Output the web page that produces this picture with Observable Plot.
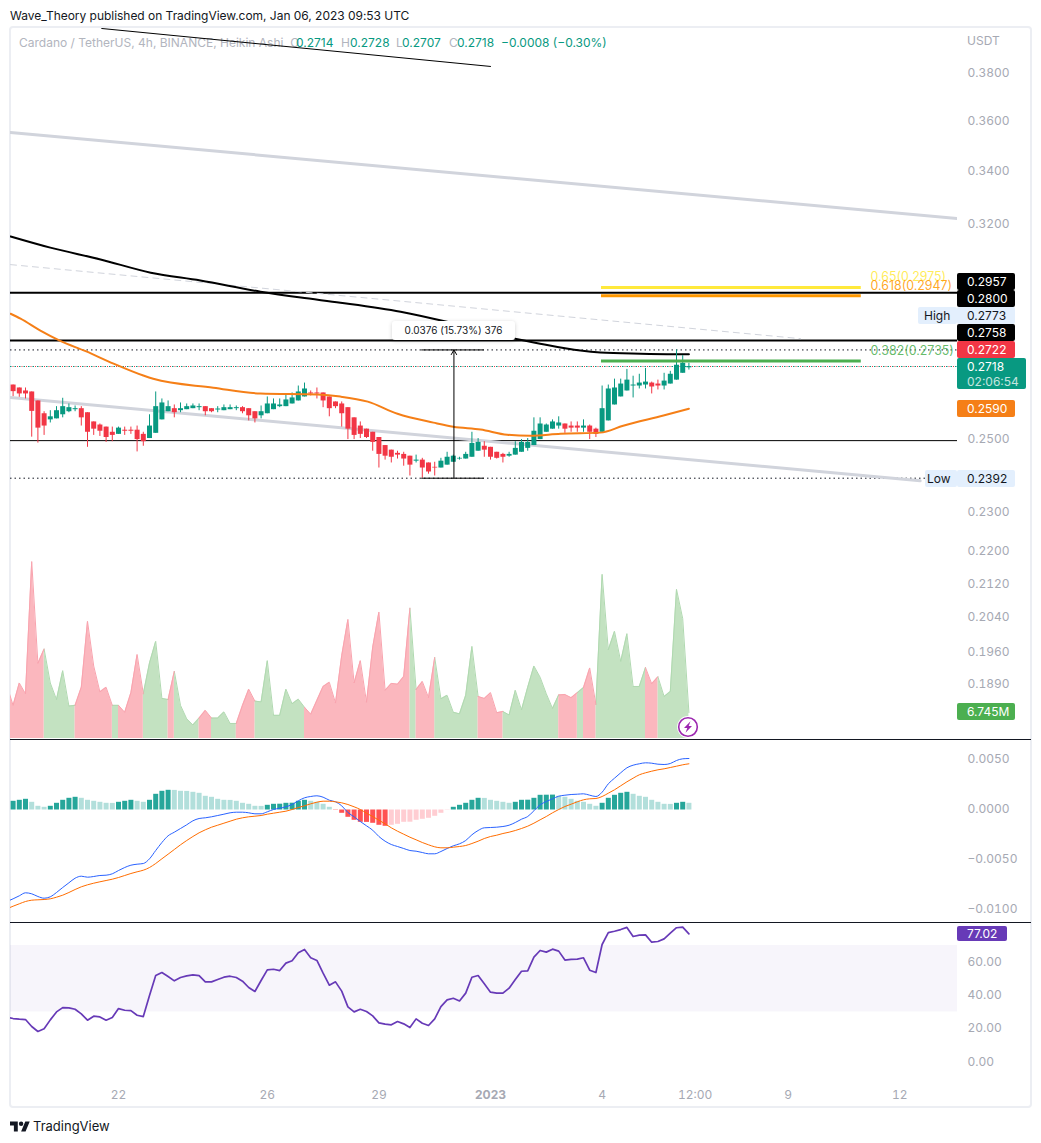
<!DOCTYPE html>
<html>
<head>
<meta charset="utf-8">
<script src="https://cdn.jsdelivr.net/npm/d3@7"></script>
<script src="https://cdn.jsdelivr.net/npm/@observablehq/plot@0.6"></script>
<style>
html,body{margin:0;padding:0;background:#fff;overflow:hidden}
#page{position:relative;width:1041px;height:1143px;overflow:hidden;font-family:Inter,"Liberation Sans",sans-serif;font-size:12px;color:#131722}
#page svg{position:absolute;left:0;max-width:none}
.t{position:absolute;white-space:nowrap;line-height:16px}
.tag{position:absolute;box-sizing:border-box;padding-left:10px;display:flex;align-items:center;white-space:nowrap;border-radius:2px;font-size:12px}
.rule{position:absolute;background:#131722;height:1px}
</style>
</head>
<body>
<div id="page"></div>
<script>
// ---------- candles (4h Heikin Ashi), from 19 Dec 2022 04:00 UTC
const open=[.2661,.2652,.2643,.2640,.2613,.2575,.2557,.2560,.2572,.2581,
.2587,.2590,.2578,.2551,.2542,.2536,.2521,.2515,.2527,.2527,
.2527,.2515,.2503,.2518,.2557,.2581,.2590,.2584,.2587,.2590,
.2593,.2596,.2590,.2586,.2584,.2587,.2590,.2593,.2590,.2581,
.2569,.2575,.2587,.2596,.2596,.2604,.2613,.2625,.2637,.2637,
.2637,.2625,.2610,.2604,.2593,.2563,.2539,.2530,.2521,.2506,
.2483,.2470,.2461,.2458,.2453,.2439,.2442,.2434,.2422,.2420,
.2428,.2436,.2445,.2445,.2450,.2467,.2481,.2478,.2464,.2458,
.2453,.2456,.2464,.2475,.2483,.2500,.2521,.2530,.2539,.2545,
.2539,.2539,.2533,.2539,.2530,.2521,.2554,.2601,.2625,.2643,
.2658,.2658,.2661,.2667,.2664,.2658,.2664,.2676,.2697,.2714];
const high=[.2661,.2652,.2652,.2640,.2613,.2581,.2584,.2596,.2621,.2604,
.2598,.2596,.2578,.2551,.2545,.2536,.2536,.2536,.2536,.2536,
.2539,.2521,.2572,.2640,.2619,.2613,.2601,.2607,.2604,.2604,
.2604,.2596,.2590,.2596,.2601,.2601,.2598,.2596,.2590,.2581,
.2598,.2625,.2619,.2619,.2631,.2637,.2658,.2667,.2643,.2652,
.2637,.2625,.2610,.2610,.2593,.2563,.2551,.2530,.2521,.2506,
.2483,.2470,.2467,.2464,.2453,.2456,.2447,.2434,.2436,.2447,
.2464,.2456,.2450,.2464,.2521,.2503,.2494,.2478,.2464,.2461,
.2464,.2494,.2500,.2503,.2563,.2563,.2545,.2557,.2566,.2545,
.2551,.2551,.2557,.2542,.2533,.2658,.2661,.2679,.2679,.2709,
.2688,.2694,.2712,.2670,.2676,.2697,.2703,.2770,.2752,.2728];
const low=[.2626,.2624,.2619,.2507,.2490,.2512,.2548,.2560,.2563,.2578,
.2581,.2539,.2478,.2512,.2509,.2492,.2494,.2515,.2512,.2515,
.2465,.2481,.2503,.2518,.2557,.2581,.2563,.2578,.2587,.2590,
.2584,.2569,.2578,.2578,.2584,.2587,.2584,.2575,.2554,.2548,
.2560,.2575,.2587,.2593,.2596,.2604,.2613,.2625,.2628,.2619,
.2593,.2566,.2590,.2536,.2500,.2500,.2503,.2503,.2467,.2420,
.2442,.2434,.2445,.2425,.2398,.2434,.2392,.2403,.2398,.2420,
.2428,.2436,.2442,.2445,.2450,.2467,.2450,.2442,.2445,.2434,
.2450,.2456,.2464,.2467,.2483,.2500,.2521,.2530,.2530,.2518,
.2521,.2521,.2521,.2500,.2506,.2518,.2554,.2601,.2625,.2643,
.2622,.2649,.2649,.2634,.2646,.2646,.2664,.2676,.2697,.2707];
const close=[.2641,.2634,.2634,.2582,.2533,.2539,.2566,.2584,.2596,.2593,
.2590,.2563,.2521,.2530,.2524,.2506,.2512,.2533,.2524,.2524,
.2500,.2494,.2539,.2596,.2607,.2596,.2578,.2590,.2596,.2598,
.2596,.2581,.2581,.2589,.2593,.2593,.2593,.2581,.2569,.2560,
.2581,.2604,.2604,.2601,.2616,.2622,.2640,.2649,.2634,.2634,
.2613,.2590,.2596,.2575,.2530,.2512,.2515,.2506,.2492,.2458,
.2453,.2450,.2456,.2445,.2428,.2442,.2420,.2409,.2420,.2439,
.2450,.2453,.2447,.2458,.2489,.2492,.2470,.2450,.2447,.2450,
.2458,.2475,.2492,.2492,.2524,.2545,.2542,.2551,.2548,.2530,
.2533,.2533,.2539,.2521,.2515,.2590,.2649,.2652,.2664,.2676,
.2661,.2667,.2670,.2655,.2658,.2673,.2694,.2722,.2728,.2718];

// ---------- moving averages and drawings (bar number, price)
const emaBars=[-0.4,1.2,4.4,7.6,11.7,16.2,21,22.6,32.3,39.9,49.1,52.8,57.2,62,67.8,71,75.4,79.7,83.4,88.3,94.7,98.4,104.9,109];
const emaPrices=[.2887,.2871,.2832,.2799,.2766,.2727,.2690,.2680,.2653,.2635,.2632,.2626,.2611,.2575,.2549,.2537,.2529,.2514,.2511,.2517,.2520,.2540,.2570,.2590];
const slowBars=[-0.4,6,14.1,22.2,30.2,39.9,46.4,52.8,62.5,70.5,78.6,85,91.5,94.7,101.2,109];
const slowPrices=[.3154,.3114,.3072,.3026,.2999,.2961,.2941,.2924,.2894,.2858,.2816,.2790,.2768,.2762,.2758,.2756];
const trendHighBars=[-0.42,152.32], trendHighPrices=[.3552,.3219];
const trendLowBars=[-0.42,146.3], trendLowPrices=[.2623,.2385];
const trendDashBars=[-0.42,127], trendDashPrices=[.3054,.2806];
const trendTopBars=[14.3,77], trendTopPrices=[.4001,.3831];
const fibBars=[94.9,136.8];
const fibLabelBar=138.3;
const fibLevels=["0.65(0.2975)","0.618(0.2947)","0.382(0.2735)"];
const fibPrices=[.2975,.2947,.2735];
const fibColors=["#FFE93B","#FF9800","#4CAF50"];
const solidLevels=[.2957,.2800], thinLevels=[.2497], dottedLevels=[.2770,.2392], lastPrice=[.2718];
const measureBars=[65.9,71.1,76], measureLow=.2392, measureHigh=.2770;
const priceTicks=[.38,.36,.34,.32,.25,.23,.22,.212,.204,.196,.189];

// ---------- volume in millions, first entry is the bar before the first candle
const volume=[13.7,8.6,14.4,11.6,45.9,19.5,23.2,14.4,10.1,17.6,8.4,
8.6,13.3,30.4,18.8,12.1,13.3,8.6,8.6,6.8,11.9,
21.8,11.6,19.6,25.2,10.4,10.1,17.4,8.6,5.1,3.5,
5.3,7.3,5.3,5.3,6.9,3.9,3.9,8.6,12.8,9.7,
9.5,20.2,6.0,6.0,12.8,9.0,10.2,8.1,6.3,9.9,
13.5,14.6,9.2,21.5,30.9,14.4,20.2,9.4,23.7,32.8,
12.5,14.3,14.1,16.1,33.8,12.7,14.8,10.6,21.0,10.3,
11.2,6.8,6.4,11.2,23.9,10.9,10.4,11.9,6.7,7.0,
6.1,12.5,7.4,13.3,18.8,15.9,11.6,7.8,11.3,11.4,
10.6,11.9,13.2,18.3,8.8,42.6,23.0,27.8,20.0,27.2,
13.5,13.5,18.4,14.2,16.0,10.9,12.2,38.7,31.1,6.745];

// ---------- MACD (units of 0.0001), first entry of the lines is the bar before the first candle
const macdHist=[8.7,9.7,10.7,7.7,3.7,2.7,3.7,6.7,9.7,11.7,
12.7,11.7,9.7,8.7,7.7,6.7,6.6,7.7,8.7,9.7,
8.7,7.7,9.7,15.7,18.7,19.7,19.6,18.7,18.6,17.7,
16.7,13.7,12.7,10.7,9.7,9.6,8.7,6.7,5.7,3.7,
3.6,4.7,5.7,5.8,6.7,6.8,8.7,9.7,8.7,7.7,
5.7,2.7,-0.3,-3.3,-7.3,-10.3,-12.3,-12.4,-13.3,-15.3,
-16.3,-15.3,-14.3,-12.3,-12.2,-10.3,-9.3,-8.3,-6.3,-3.3,
-0.3,2.7,4.7,6.7,9.7,11.7,11.6,9.7,8.7,7.7,
6.7,7.7,9.7,9.8,11.7,14.7,14.8,14.9,13.7,12.7,
10.7,8.7,7.7,5.7,3.7,6.7,11.7,14.7,16.7,17.7,
15.7,13.7,12.7,9.7,7.7,5.7,5.6,6.7,7.7,6.7];
const macdLine=[-91.5,-88.8,-85.8,-82.8,-83.8,-86.5,-88.2,-86.8,-82.5,-77.5,-72.8,
-68.2,-66.2,-67.2,-66.5,-65.5,-65.2,-63.8,-60.5,-57.5,-55.2,
-54.2,-53.5,-48.8,-40.5,-32.5,-25.8,-22.2,-18.5,-14.8,-10.8,
-8.5,-7.8,-6.8,-5.5,-4.2,-2.8,-2.2,-2.2,-2.8,-3.8,
-3.8,-1.8,.5,1.8,3.2,5.5,9.2,12.2,13.5,14.2,
12.8,9.8,8.2,4.2,-2.5,-6.8,-11.5,-15.8,-20.2,-26.5,
-31.2,-34.5,-36.5,-38.5,-40.5,-41.2,-42.5,-43.8,-43.8,-41.5,
-38.5,-35.8,-33.8,-30.5,-24.8,-20.5,-17.8,-17.5,-17.2,-16.5,
-15.2,-12.5,-9.2,-6.5,-0.8,5.2,8.5,11.2,13.8,14.8,
15.5,15.8,16.2,14.8,13.5,17.8,26.2,31.8,37.2,42.2,
44.8,46.2,47.2,46.8,45.8,45.5,46.5,49.5,51.2,51.5];
const macdSignal=[-98.8,-96.2,-93.8,-91.5,-90.2,-89.8,-89.5,-88.8,-87.2,-85.2,-82.5,
-79.5,-76.8,-74.8,-73.2,-71.8,-70.5,-69.2,-67.5,-65.5,-63.5,
-61.8,-60.2,-57.5,-53.5,-48.8,-44.2,-39.5,-34.8,-30.5,-26.5,
-22.8,-19.8,-17.2,-15.2,-13.2,-11.2,-9.2,-7.8,-6.8,-6.2,
-5.5,-4.2,-3.2,-2.2,-1.2,.5,2.5,4.2,6.2,7.8,
8.8,8.8,8.2,7.2,5.5,3.2,.5,-3.2,-6.5,-10.2,
-13.8,-17.8,-21.2,-24.2,-27.2,-29.8,-32.5,-34.8,-36.8,-37.8,
-37.8,-37.2,-36.5,-35.5,-33.5,-31.2,-28.5,-26.5,-25.2,-23.5,
-22.2,-20.5,-18.5,-16.2,-13.2,-9.8,-6.5,-2.8,.5,3.5,
5.8,8.2,10.2,11.2,11.5,13.5,16.8,20.2,24.2,28.2,
31.8,35.2,37.2,38.8,40.2,41.2,42.5,43.8,45.2,46.2];
const macdTicks=[.005,0,-.005,-.01];

// ---------- RSI, first entry is the bar before the first candle
const rsi=[26.8,26.0,25.6,25.4,21.2,18.2,19.8,25.2,30.0,32.6,32.4,
31.6,28.8,25.0,27.4,27.0,25.0,26.6,32.0,31.0,30.8,
28.0,27.2,39.9,51.9,53.7,51.3,48.7,50.7,51.7,52.3,
51.9,48.1,48.1,49.5,50.9,51.5,50.7,48.5,44.7,42.3,
48.9,55.3,55.7,54.9,59.4,60.8,65.6,67.6,62.6,61.0,
53.3,46.1,48.1,42.5,33.0,30.0,31.6,30.2,27.6,23.4,
22.6,22.2,24.2,22.8,20.6,25.8,23.2,21.8,25.8,33.2,
37.2,38.2,36.6,41.3,50.9,51.9,46.9,41.9,41.3,41.3,
44.3,49.5,54.5,54.7,63.0,67.0,66.0,67.8,66.6,61.2,
61.6,61.8,62.6,55.1,53.7,70.6,77.8,78.6,79.6,80.9,
75.4,76.2,76.4,72.0,72.4,74.0,77.4,80.7,81.1,77.02];
const rsiTicks=[60,40,20,0];
const rsiBand=[30,70];

// ---------- time axis
const timeTicks=[[2022,11,22,0],[2022,11,26,0],[2022,11,29,0],[2023,0,4,0],[2023,0,6,12],[2023,0,9,0],[2023,0,12,0]];
const timeLabels=["22","26","29","4","12:00","9","12"];
const yearTick=[2023,0,1,0];

// ---------- helpers
const FONT='Inter,"Liberation Sans",sans-serif';
const AXIS="#A6A9B3", UP="#089981", DOWN="#F23645";
const barStart=Date.UTC(2022,11,19,4), barMs=4*3600e3;
const barTime=i=>new Date(barStart+i*barMs);
const xDomain=[barTime(-0.42),barTime(152.32)];
const page=document.getElementById("page");
const pts=(bars,vals)=>bars.map((b,i)=>({t:barTime(b),v:vals[i]}));
const seq=vals=>vals.map((v,i)=>({t:barTime(i-1),v}));
function pane(top,height,y,marks,extra={}){
  const svg=Plot.plot({width:1041,height,marginLeft:10,marginRight:84,marginTop:0,marginBottom:0,
    x:{type:"utc",domain:xDomain,axis:null},y,marks,
    style:{background:"transparent",fontFamily:FONT,fontSize:"12px"},...extra});
  svg.style.top=top+"px";
  page.appendChild(svg);
}
function text(html,left,top,css=""){
  const d=document.createElement("div");d.className="t";d.style.cssText=`left:${left}px;top:${top}px;${css}`;d.innerHTML=html;page.appendChild(d);return d;
}
function tag(html,left,top,w,h,bg,color="#fff"){
  const d=document.createElement("div");d.className="tag";
  d.style.cssText=`left:${left}px;top:${top}px;width:${w}px;height:${h}px;background:${bg};color:${color}`;
  d.innerHTML=html;page.appendChild(d);return d;
}

// ---------- frame and header
const frame=document.createElement("div");
frame.style.cssText="position:absolute;left:9px;top:26px;width:1023px;height:1082px;box-sizing:border-box;border:2px solid #ECEEF3;border-radius:4px";
page.appendChild(frame);
text("Wave_Theory published on TradingView.com, Jan 06, 2023 09:53 UTC",10,8,"letter-spacing:-0.03px");
text("Cardano / TetherUS, 4h, BINANCE, Heikin Ashi&nbsp;&nbsp;O",19,35,"color:#B2B5BE");
const G="color:#089981", L="color:#B2B5BE";
text("0.2714",296,35,G);
text("H",341,35,L);text("0.2728",350,35,G);
text("L",396,35,L);text("0.2707",402,35,G);
text("C",449,35,L);text("0.2718",457,35,G);
text("−0.0008 (−0.30%)",501,35,G);
text("USDT",967,33,"color:"+AXIS);

// ---------- volume pane (overlaid on the price pane): one area per run of same-coloured bars
const volSegs=[];
let run=0;
volume.forEach((v,i)=>{ if(i===0) return;
  const up=close[i-1]>=open[i-1];
  if(i>1 && up!==(close[i-2]>=open[i-2])) run++;
  volSegs.push({seg:run,up,t:barTime(i-2),v:volume[i-1]},{seg:run,up,t:barTime(i-1),v});
});
const volUp=volSegs.filter(d=>d.up), volDown=volSegs.filter(d=>!d.up);
pane(28,710,{domain:[0,184.2],axis:null},[
  Plot.areaY(volUp,{x:"t",y1:()=>0,y2:"v",z:"seg",fill:"#C3E2C1",clip:true}),
  Plot.areaY(volDown,{x:"t",y1:()=>0,y2:"v",z:"seg",fill:"#FBB7BE",clip:true}),
  Plot.line(volUp,{x:"t",y:"v",z:"seg",stroke:"#B0D9B0",strokeWidth:1,clip:true}),
  Plot.line(volDown,{x:"t",y:"v",z:"seg",stroke:"#F9A3AE",strokeWidth:1,clip:true})
]);

// ---------- price pane
const candles=open.map((o,i)=>({t:barTime(i),o,h:high[i],l:low[i],c:close[i],col:close[i]>=o?UP:DOWN}));
const fibs=fibLevels.map((label,i)=>({label,p:fibPrices[i],color:fibColors[i],a:barTime(fibBars[0]),b:barTime(fibBars[1]),lab:barTime(fibLabelBar)}));
const measure=[{t:barTime(measureBars[1]),low:measureLow,high:measureHigh,a:barTime(measureBars[0]),b:barTime(measureBars[2])}];
const priceMarks=[
  Plot.ruleY(solidLevels,{stroke:"#000",strokeWidth:2}),
  Plot.ruleY(thinLevels,{stroke:"#000",strokeWidth:1}),
  Plot.ruleY(dottedLevels,{stroke:"#131722",strokeWidth:1,strokeDasharray:"1.5,3"}),
  Plot.ruleY(lastPrice,{stroke:UP,strokeWidth:1,strokeDasharray:"1.5,3"}),
  Plot.ruleY(lastPrice,{stroke:DOWN,strokeWidth:1,strokeDasharray:"1,3.5",strokeDashoffset:2}),
  Plot.line(pts(trendHighBars,trendHighPrices),{x:"t",y:"v",stroke:"#D1D4DC",strokeWidth:3,clip:true}),
  Plot.line(pts(trendLowBars,trendLowPrices),{x:"t",y:"v",stroke:"#D1D4DC",strokeWidth:3,clip:true}),
  Plot.line(pts(trendDashBars,trendDashPrices),{x:"t",y:"v",stroke:"#D1D4DC",strokeWidth:1,strokeDasharray:"6,5",clip:true}),
  Plot.line(pts(trendTopBars,trendTopPrices),{x:"t",y:"v",stroke:"#000",strokeWidth:1,clip:true}),
  Plot.line(pts(slowBars,slowPrices),{x:"t",y:"v",stroke:"#000",strokeWidth:2,curve:"monotone-x",clip:true}),
  Plot.ruleX(candles,{x:"t",y1:"l",y2:"h",stroke:"col",strokeWidth:1}),
  Plot.ruleX(candles,{x:"t",y1:"o",y2:"c",stroke:"col",strokeWidth:5}),
  Plot.line(pts(emaBars,emaPrices),{x:"t",y:"v",stroke:"#F57F17",strokeWidth:2,curve:"monotone-x",clip:true}),
  Plot.ruleY(fibs,{y:"p",x1:"a",x2:"b",stroke:"color",strokeWidth:3}),
  Plot.text(fibs,{x:"lab",y:"p",text:"label",fill:"color",fillOpacity:.85,dy:-10,textAnchor:"start",fontSize:12.4}),
  Plot.ruleY(measure,{y:"low",x1:"a",x2:"b",stroke:"#000",strokeWidth:1}),
  Plot.ruleY(measure,{y:"high",x1:"a",x2:"b",stroke:"#000",strokeWidth:1}),
  Plot.arrow(measure,{x1:"t",y1:"low",x2:"t",y2:"high",bend:0,headLength:8,stroke:"#000",strokeWidth:1}),
  Plot.axisY(priceTicks,{anchor:"right",tickSize:0,tickPadding:10,tickFormat:".4f",label:null,color:AXIS})
];
pane(28,710,{type:"log",domain:[.1776,.4001]},priceMarks);

// ---------- MACD pane
const hist=macdHist.map((h,i)=>{
  const prev=i?macdHist[i-1]:h-1;
  const fill=h>=0?(h>prev?"#26A69A":"#B2DFDB"):(h<prev?"#FF5252":"#FFCDD2");
  return {t:barTime(i),v:h*1e-4,fill};
});
const scale4=a=>seq(a.map(v=>v*1e-4));
pane(740,183,{domain:[-.01135,.00695]},[
  Plot.ruleX(hist,{x:"t",y1:()=>0,y2:"v",stroke:"fill",strokeWidth:5}),
  Plot.line(scale4(macdLine),{x:"t",y:"v",stroke:"#2962FF",strokeWidth:1,curve:"monotone-x",clip:true}),
  Plot.line(scale4(macdSignal),{x:"t",y:"v",stroke:"#FF6D00",strokeWidth:1,curve:"monotone-x",clip:true}),
  Plot.axisY(macdTicks,{anchor:"right",tickSize:0,tickPadding:10,tickFormat:".4f",label:null,color:AXIS,dy:-1})
]);

// ---------- RSI pane and time axis
const utc=a=>new Date(Date.UTC(...a));
const labelOf=new Map(timeTicks.map((a,i)=>[+utc(a),timeLabels[i]]));
pane(923,185,{domain:[-10.12,83.25]},[
  Plot.rect([{a:xDomain[0],b:xDomain[1],lo:rsiBand[0],hi:rsiBand[1]}],{x1:"a",x2:"b",y1:"lo",y2:"hi",fill:"#7E57C2",fillOpacity:.06}),
  Plot.line(seq(rsi),{x:"t",y:"v",stroke:"#673AB7",strokeWidth:1.7,clip:true}),
  Plot.axisY(rsiTicks,{anchor:"right",tickSize:0,tickPadding:10,tickFormat:".2f",label:null,color:AXIS}),
  Plot.axisX(timeTicks.map(utc),{anchor:"bottom",tickSize:0,tickPadding:12,tickFormat:d=>labelOf.get(+d),label:null,color:AXIS}),
  Plot.text([utc(yearTick)],{x:d=>d,frameAnchor:"bottom",dy:20,text:()=>"2023",fontWeight:700,fill:AXIS,fontSize:12})
],{marginBottom:30});

// ---------- separators
for(const y of [739,922]){const r=document.createElement("div");r.className="rule";r.style.cssText=`left:10px;top:${y}px;width:1021px`;page.appendChild(r);}

// ---------- price tags
const H=17, X=957, TW=58, BLUE="#E3EFFD", INK="#131722";
tag("0.2957",X,273,TW,H,"#000");
tag("0.2800",X,290,TW,H,"#000");
tag("High",918,307,39,H,BLUE,INK).style.paddingLeft="6px";
tag("0.2773",X,307,TW,H,BLUE,INK);
tag("0.2758",X,324,TW,H,"#000");
tag("0.2722",X,341,TW,H,DOWN);
tag('<div style="line-height:15px">0.2718<br><span style="opacity:.75">02:06:54</span></div>',X,358,69,31,UP);
tag("0.2590",X,400,TW,H,"#F57F17");
tag("Low",925,470,32,H,BLUE,INK).style.paddingLeft="2px";
tag("0.2392",X,470,TW,H,BLUE,INK);
tag("6.745M",X,703,TW,H,"#4CAF50");
tag("77.02",X,926,50,15,"#673AB7");

// ---------- measure label
text("0.0376 (15.73%) 376",392,321,"width:123px;height:19px;line-height:19px;text-align:center;background:#fff;border-radius:3px;box-shadow:0 1px 4px rgba(0,0,0,.18);font-size:10px;color:#131722");

// ---------- bolt badge
const bolt=document.createElementNS("http://www.w3.org/2000/svg","svg");
bolt.setAttribute("width","22");bolt.setAttribute("height","22");bolt.setAttribute("viewBox","0 0 22 22");
bolt.style.cssText="left:677px;top:716px;position:absolute";
bolt.innerHTML='<circle cx="11" cy="11" r="10.9" fill="#fff"/><circle cx="11" cy="11" r="9.3" fill="#fff" stroke="#9C27B0" stroke-width="1.6"/><path fill="#9C27B0" d="M13.5 5.2 7 12h3.3l-1.8 4.8L15 10h-3.3z"/>';
page.appendChild(bolt);

// ---------- footer
const logo=document.createElementNS("http://www.w3.org/2000/svg","svg");
logo.setAttribute("width","20");logo.setAttribute("height","12");logo.setAttribute("viewBox","0 0 36 20");
logo.style.cssText="left:10px;top:1120px;position:absolute";
logo.innerHTML='<path fill="#131722" d="M14 20H7V9H0V2h14v18zM28 20h-8l7.5-18h8L28 20z"/><circle fill="#131722" cx="20" cy="6" r="4"/>';
page.appendChild(logo);
text("TradingView",33,1118,"font-size:13px;color:#131722");
</script>
</body>
</html>
